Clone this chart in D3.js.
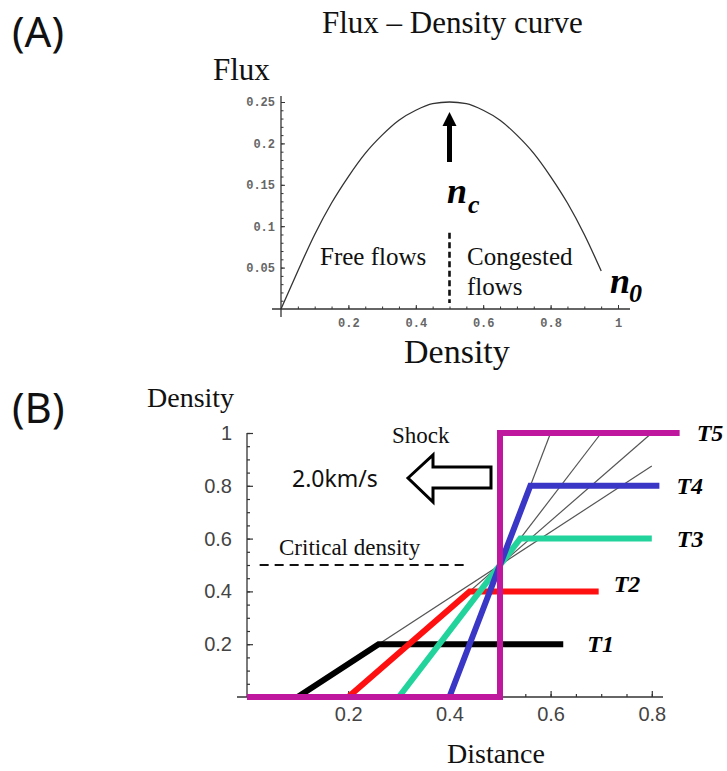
<!DOCTYPE html>
<html>
<head>
<meta charset="utf-8">
<script src="https://cdn.jsdelivr.net/npm/d3@7"></script>
<style>
body { margin: 0; background: #fff; }
svg { display: block; }
</style>
</head>
<body>
<svg id="fig" width="727" height="771"></svg>
<script>
(function() {
"use strict";

// (A) flux - density curve
var densityA = [0, 0.05, 0.1, 0.15, 0.2, 0.25, 0.3, 0.35, 0.4, 0.45, 0.5, 0.55, 0.6, 0.65, 0.7, 0.75, 0.8, 0.85, 0.9, 0.95];
var fluxA = [0, 0.046, 0.09, 0.128, 0.16, 0.188, 0.21, 0.228, 0.24, 0.248, 0.25, 0.248, 0.24, 0.228, 0.21, 0.188, 0.16, 0.128, 0.09, 0.046];
var fluxTicks = [0.05, 0.1, 0.15, 0.2, 0.25];
var fluxTickLabels = ["0.05", "0.1", "0.15", "0.2", "0.25"];
var densityTicksA = [0.2, 0.4, 0.6, 0.8, 1];
var densityTickLabelsA = ["0.2", "0.4", "0.6", "0.8", "1"];

// (B) density profiles at times T1..T5
var timeNames = ["T1", "T2", "T3", "T4", "T5"];
var timeColors = ["#000000", "#ff1010", "#22d49c", "#3a36c6", "#c0179f"];
var profileX = [
    [0.1, 0.26, 0.625],
    [0.2, 0.44, 0.695],
    [0.3, 0.54, 0.8],
    [0.4, 0.56, 0.815],
    [0, 0.5, 0.5, 0.855]
];
var profileY = [
    [0, 0.2, 0.2],
    [0, 0.4, 0.4],
    [0, 0.6, 0.6],
    [0, 0.8, 0.8],
    [0, 0, 1, 1]
];
// thin characteristic lines through (0.5, 0.5)
var fanX = [[0.1, 0.8], [0.2, 0.8], [0.3, 0.7], [0.4, 0.6]];
var fanY = [[0, 0.875], [0, 1], [0, 1], [0, 1]];
var criticalDensity = 0.5;
var criticalX = [0.025, 0.44];
var densityTicksB = [0.2, 0.4, 0.6, 0.8, 1];
var densityTickLabelsB = ["0.2", "0.4", "0.6", "0.8", "1"];
var distanceTicks = [0.2, 0.4, 0.6, 0.8];
var distanceTickLabels = ["0.2", "0.4", "0.6", "0.8"];

var SERIF = "'Liberation Serif', 'Times New Roman', serif";
var SANS = "'Noto Sans', 'Open Sans', sans-serif";

var svg = d3.select("#fig");

var text = function(g, x, y, s, size, family, opts) {
    opts = opts || {};
    return g.append("text")
        .attr("x", x)
        .attr("y", y)
        .attr("font-family", family)
        .attr("font-size", size)
        .attr("font-weight", opts.weight || "normal")
        .attr("font-style", opts.style || "normal")
        .attr("text-anchor", opts.anchor || "start")
        .attr("fill", opts.fill || "#111")
        .text(s);
};

var minorRange = function(step, max) {
    var v = [];
    for (var i = 1; i * step <= max + 1e-9; ++i) {
        v.push(+(i * step).toFixed(4));
    }
    return v;
};

// ---------------- panel A ----------------
var gA = svg.append("g");
var xA = d3.scaleLinear().domain([0, 1]).range([281, 618]);
var yA = d3.scaleLinear().domain([0, 0.25]).range([309, 102]);

text(gA, 12, 47, "(A)", 42, SANS, {fill: "#111"});
text(gA, 322, 33, "Flux \u2013 Density curve", 31, SERIF);
text(gA, 213, 80, "Flux", 31, SERIF);
text(gA, 404, 363, "Density", 34, SERIF);

gA.append("line")
    .attr("x1", xA(0)).attr("x2", xA(0))
    .attr("y1", yA(0) + 8).attr("y2", yA(0.25) - 6)
    .attr("stroke", "#333").attr("stroke-width", 1.3);
gA.append("line")
    .attr("x1", xA(0) - 9).attr("x2", xA(1) + 12)
    .attr("y1", yA(0)).attr("y2", yA(0))
    .attr("stroke", "#333").attr("stroke-width", 1.3);

var yAxisA = gA.append("g")
    .attr("transform", "translate(" + xA(0) + ",0)")
    .call(d3.axisLeft(yA).tickValues(fluxTicks)
        .tickFormat(function(d, i) { return fluxTickLabels[i]; })
        .tickSizeInner(-4).tickSizeOuter(0).tickPadding(6));
var yAxisAm = gA.append("g")
    .attr("transform", "translate(" + xA(0) + ",0)")
    .call(d3.axisLeft(yA).tickValues(minorRange(0.01, 0.25)).tickFormat("")
        .tickSizeInner(-2.5).tickSizeOuter(0));
var xAxisA = gA.append("g")
    .attr("transform", "translate(0," + yA(0) + ")")
    .call(d3.axisBottom(xA).tickValues(densityTicksA)
        .tickFormat(function(d, i) { return densityTickLabelsA[i]; })
        .tickSizeInner(-4).tickSizeOuter(0).tickPadding(9));
var xAxisAm = gA.append("g")
    .attr("transform", "translate(0," + yA(0) + ")")
    .call(d3.axisBottom(xA).tickValues(minorRange(0.05, 1)).tickFormat("")
        .tickSizeInner(-2.5).tickSizeOuter(0));
[yAxisA, yAxisAm, xAxisA, xAxisAm].forEach(function(a) {
    a.select(".domain").remove();
    a.selectAll("line").attr("stroke", "#333");
    a.selectAll("text")
        .attr("font-family", "'Liberation Mono', 'DejaVu Sans Mono', monospace")
        .attr("font-size", 12)
        .attr("font-weight", "bold")
        .attr("fill", "#666");
});

gA.append("path")
    .datum(d3.range(densityA.length))
    .attr("fill", "none")
    .attr("stroke", "#333")
    .attr("stroke-width", 1.3)
    .attr("d", d3.line()
        .curve(d3.curveMonotoneX)
        .x(function(i) { return xA(densityA[i]); })
        .y(function(i) { return yA(fluxA[i]); }));

// arrow pointing at the peak
var ax = xA(0.5);
gA.append("rect")
    .attr("x", ax - 2.5).attr("y", 124).attr("width", 5).attr("height", 38)
    .attr("fill", "#000");
gA.append("path")
    .attr("d", "M" + ax + ",112L" + (ax - 7) + ",126L" + (ax + 7) + ",126Z")
    .attr("fill", "#000");

gA.append("line")
    .attr("x1", ax).attr("x2", ax)
    .attr("y1", yA(0.092)).attr("y2", yA(0) - 6)
    .attr("stroke", "#111").attr("stroke-width", 2.6)
    .attr("stroke-dasharray", "6,3.5");

text(gA, 447, 203, "n", 36, SERIF, {weight: "bold", style: "italic", fill: "#000"});
text(gA, 468, 213, "c", 26, SERIF, {weight: "bold", style: "italic", fill: "#000"});
text(gA, 610, 293, "n", 36, SERIF, {weight: "bold", style: "italic", fill: "#000"});
text(gA, 629, 302, "0", 26, SERIF, {weight: "bold", style: "italic", fill: "#000"});
text(gA, 320, 265, "Free flows", 25, SERIF);
text(gA, 467, 265, "Congested", 25, SERIF);
text(gA, 467, 295, "flows", 25, SERIF);

// ---------------- panel B ----------------
var gB = svg.append("g");
var xB = d3.scaleLinear().domain([0, 1]).range([247, 753]);
var yB = d3.scaleLinear().domain([0, 1]).range([697, 433]);

text(gB, 12, 423, "(B)", 42, SANS, {fill: "#111"});
text(gB, 147, 407, "Density", 28, SERIF);
text(gB, 447, 763, "Distance", 28, SERIF);

gB.append("line")
    .attr("x1", xB(0)).attr("x2", xB(0))
    .attr("y1", yB(0)).attr("y2", yB(1))
    .attr("stroke", "#333").attr("stroke-width", 1.3);
gB.append("line")
    .attr("x1", xB(0) - 10).attr("x2", 663)
    .attr("y1", yB(0)).attr("y2", yB(0))
    .attr("stroke", "#333").attr("stroke-width", 1.3);

var yAxisB = gB.append("g")
    .attr("transform", "translate(" + xB(0) + ",0)")
    .call(d3.axisLeft(yB).tickValues(densityTicksB)
        .tickFormat(function(d, i) { return densityTickLabelsB[i]; })
        .tickSizeInner(-6).tickSizeOuter(0).tickPadding(15));
var yAxisBm = gB.append("g")
    .attr("transform", "translate(" + xB(0) + ",0)")
    .call(d3.axisLeft(yB).tickValues(minorRange(0.05, 1)).tickFormat("")
        .tickSizeInner(-3).tickSizeOuter(0));
var xAxisB = gB.append("g")
    .attr("transform", "translate(0," + yB(0) + ")")
    .call(d3.axisBottom(xB).tickValues(distanceTicks)
        .tickFormat(function(d, i) { return distanceTickLabels[i]; })
        .tickSizeInner(-6).tickSizeOuter(0).tickPadding(10));
var xAxisBm = gB.append("g")
    .attr("transform", "translate(0," + yB(0) + ")")
    .call(d3.axisBottom(xB).tickValues(minorRange(0.05, 0.8)).tickFormat("")
        .tickSizeInner(-3).tickSizeOuter(0));
[yAxisB, yAxisBm, xAxisB, xAxisBm].forEach(function(a) {
    a.select(".domain").remove();
    a.selectAll("line").attr("stroke", "#333").attr("stroke-width", 1.2);
    a.selectAll("text")
        .attr("font-family", "'Liberation Sans Narrow', 'Liberation Sans', Arial, sans-serif")
        .attr("font-size", 20)
        .attr("fill", "#444");
});

// thin characteristic lines
var fanLine = d3.line()
    .x(function(d) { return xB(d[0]); })
    .y(function(d) { return yB(d[1]); });
fanX.forEach(function(xs, k) {
    gB.append("path")
        .datum(xs.map(function(x, i) { return [x, fanY[k][i]]; }))
        .attr("fill", "none")
        .attr("stroke", "#555")
        .attr("stroke-width", 1.2)
        .attr("d", fanLine);
});

// critical density
gB.append("line")
    .attr("x1", xB(criticalX[0])).attr("x2", xB(criticalX[1]))
    .attr("y1", yB(criticalDensity)).attr("y2", yB(criticalDensity))
    .attr("stroke", "#111").attr("stroke-width", 2)
    .attr("stroke-dasharray", "9,6");
text(gB, 279, 555, "Critical density", 23, SERIF);

// thick profiles
timeNames.forEach(function(name, k) {
    gB.append("path")
        .datum(profileX[k].map(function(x, i) { return [x, profileY[k][i]]; }))
        .attr("fill", "none")
        .attr("stroke", timeColors[k])
        .attr("stroke-width", 6)
        .attr("stroke-linejoin", "miter")
        .attr("d", fanLine);
});

// labels at the end of each profile
var labelDx = [24, 15, 25, 17, 17];
var labelDy = [8, 1, 8, 8, 8];
timeNames.forEach(function(name, k) {
    var n = profileX[k].length - 1;
    text(gB, xB(profileX[k][n]) + labelDx[k], yB(profileY[k][n]) + labelDy[k], name, 24, SERIF,
        {weight: "bold", style: "italic", fill: "#000"});
});

// shock arrow
gB.append("path")
    .attr("d", "M408,478L433,455L433,467L491,467L491,488L433,488L433,502Z")
    .attr("fill", "#fff")
    .attr("stroke", "#000")
    .attr("stroke-width", 3)
    .attr("stroke-linejoin", "miter");
text(gB, 392, 443, "Shock", 23, SERIF);
text(gB, 292, 487, "2.0km/s", 23, SANS, {fill: "#111"});

}());
</script>
</body>
</html>
